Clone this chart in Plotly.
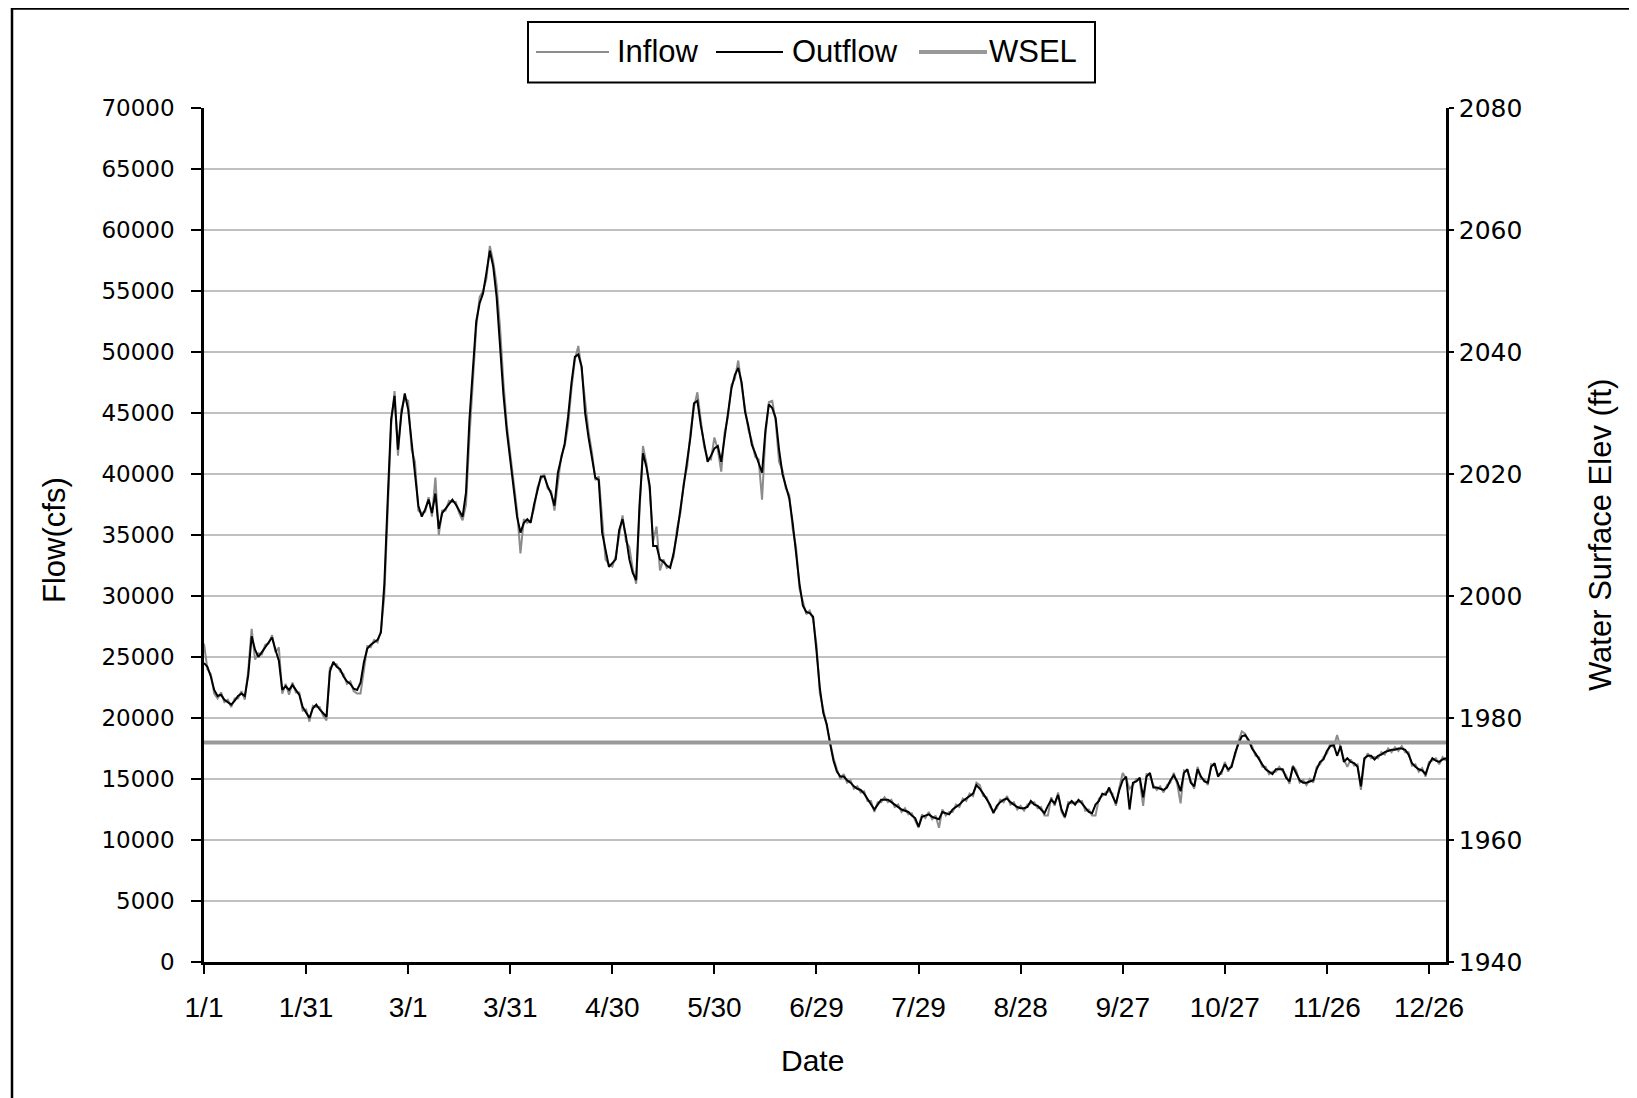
import pandas as pd
import plotly.graph_objects as go

# ---------------- data ----------------
dates = pd.date_range("2008-01-01", "2008-12-31", freq="D")
tick_labels = ["1/1", "1/31", "3/1", "3/31", "4/30", "5/30", "6/29",
               "7/29", "8/28", "9/27", "10/27", "11/26", "12/26"]
tick_dates = list(dates[::30])

outflow = [
    24500, 24200, 23400, 22300, 21800, 21900, 21500, 21300, 21100, 21400,
    21800, 22000, 21800, 23500, 26700, 25600, 25000, 25400, 25800, 26300,
    26600, 25600, 24700, 22300, 22600, 22300, 22700, 22300, 21900, 20900,
    20500, 20000, 20800, 21100, 20700, 20400, 20100, 23800, 24600, 24200,
    24000, 23400, 23000, 22800, 22400, 22300, 22900, 24600, 25700, 26000,
    26200, 26400, 27000, 31000, 38000, 44500, 46400, 42000, 44900, 46600,
    45300, 42500, 39800, 37400, 36500, 37100, 37900, 36800, 38400, 35500,
    36800, 37200, 37600, 37900, 37500, 37000, 36500, 38500, 44400, 48500,
    52500, 54000, 54800, 56500, 58300, 57000, 54500, 50500, 46500, 43500,
    41000, 38500, 36500, 35200, 36000, 36300, 36000, 37500, 38700, 39800,
    39800, 39000, 38400, 37400, 40100, 41200, 42500, 44700, 47500, 49600,
    49800, 48800, 45000, 43000, 41500, 39700, 39500, 35200, 33800, 32400,
    32700, 33000, 35400, 36300, 34900, 33000, 31900, 31300, 37500, 41700,
    40600, 39000, 34100, 34100, 33000, 32800, 32500, 32300, 33500, 35100,
    37100, 39000, 40900, 43100, 45800, 46000, 44000, 42500, 41000, 41500,
    42100, 42300, 41000, 43000, 45000, 47000, 48100, 48700, 47500, 45100,
    43900, 42400, 41700, 40900, 40100, 43600, 45700, 45400, 44600, 42000,
    40000, 39000, 38000, 36000, 33500, 31000, 29200, 28700, 28600, 28300,
    25500, 22400, 20400, 19500, 17900, 16500, 15600, 15200, 15200, 14900,
    14700, 14400, 14200, 14100, 13800, 13400, 13000, 12500, 12900, 13300,
    13300, 13300, 13100, 12900, 12700, 12500, 12400, 12300, 12000, 11800,
    11100, 11900, 12000, 12100, 11900, 11800, 11700, 12300, 12200, 12100,
    12500, 12700, 12900, 13200, 13400, 13600, 13800, 14500, 14200, 13800,
    13300, 12900, 12200, 12800, 13100, 13300, 13400, 13100, 12900, 12700,
    12600, 12600, 12700, 13200, 12900, 12800, 12500, 12200, 12800, 13300,
    13000, 13700, 12500, 11900, 12900, 13200, 12900, 13300, 13000, 12600,
    12300, 12200, 12900, 13200, 13800, 13700, 14300, 13600, 13000, 14100,
    14900, 15200, 12500, 14700, 14800, 15100, 13500, 15200, 15500, 14300,
    14300, 14200, 14100, 14300, 14900, 15300, 14800, 14000, 15500, 15800,
    14700, 14400, 15800, 15200, 14800, 14700, 16000, 16300, 15200, 15600,
    16200, 15800, 16000, 17100, 17900, 18500, 18600, 18200, 17500, 17100,
    16600, 16200, 15800, 15600, 15400, 15800, 15800, 15800, 15100, 14800,
    16000, 15500, 14900, 14700, 14700, 14800, 14900, 15800, 16400, 16600,
    17300, 17700, 17800, 16900, 17700, 16400, 16700, 16400, 16300, 16000,
    14400, 16700, 16900, 16900, 16600, 16900, 17000, 17200, 17300, 17400,
    17400, 17500, 17500, 17400, 17000, 16300, 16000, 15800, 15700, 15400,
    16200, 16700, 16500, 16400, 16600, 16700,
]

inflow = [
    26100, 24000, 23600, 22000, 21600, 22100, 21300, 21500, 20900, 21600,
    21600, 22200, 21500, 23900, 27300, 24800, 25300, 25200, 26000, 26100,
    26800, 25400, 25800, 22000, 22800, 21900, 22900, 22100, 22100, 20600,
    20700, 19700, 21000, 20900, 20900, 20200, 19800, 24100, 24400, 24400,
    23800, 23600, 22800, 23000, 22200, 22000, 22000, 24000, 25900, 25800,
    26400, 26200, 27200, 30000, 36500, 44000, 46800, 41500, 45300, 46200,
    46000, 42000, 41000, 37000, 36800, 36900, 38100, 36500, 39700, 35000,
    37000, 37000, 37800, 37700, 37700, 36800, 36200, 37500, 43000, 48000,
    52000, 54500, 55000, 56000, 58700, 57400, 55500, 52000, 47500, 44000,
    41500, 39000, 37000, 33500, 36300, 36000, 36200, 37200, 38900, 39600,
    40000, 38800, 38600, 37000, 39500, 41500, 42300, 44000, 47000, 49400,
    50500, 48500, 46000, 43500, 41800, 39500, 39800, 36000, 33000, 32600,
    32400, 33300, 35000, 36600, 34500, 34000, 32200, 31000, 37000, 42300,
    40900, 38600, 34500, 35700, 32100, 33000, 32300, 32500, 33200, 35500,
    36800, 39300, 40600, 43500, 45500, 46700, 44400, 42200, 41300, 41200,
    43000, 42000, 40200, 43400, 44700, 47300, 47800, 49300, 47200, 45500,
    43600, 42700, 41400, 41200, 37900, 43200, 45900, 46000, 44300, 41000,
    40300, 38800, 38300, 35500, 34000, 30600, 29500, 28500, 28800, 28100,
    26000, 22000, 20700, 19300, 18200, 16700, 15800, 15000, 15400, 14700,
    14900, 14200, 14400, 13900, 14000, 13200, 13200, 12300, 13100, 13100,
    13500, 13100, 13300, 12700, 12900, 12300, 12600, 12100, 12200, 11600,
    11000, 12100, 11800, 12300, 11700, 12000, 11000, 12500, 12000, 12300,
    12300, 12900, 12700, 13400, 13200, 13800, 13600, 14700, 14500, 13600,
    13500, 12700, 12400, 12600, 13300, 13100, 13600, 12900, 13100, 12500,
    12800, 12400, 12900, 13000, 13100, 12600, 12700, 12000, 12000, 13500,
    12800, 13900, 12300, 11800, 13100, 13000, 13100, 13100, 13200, 12400,
    12500, 12000, 12000, 13400, 13600, 13900, 14000, 13800, 12800, 14300,
    15500, 15000, 14200, 14500, 15000, 14900, 12800, 15400, 15300, 14500,
    14100, 14400, 13900, 14500, 14700, 15500, 14600, 13000, 15700, 15600,
    14900, 14200, 16000, 15000, 15000, 14500, 16200, 16100, 15400, 15400,
    16400, 15600, 16200, 16900, 18100, 18900, 18700, 18000, 17700, 16900,
    16800, 16000, 16000, 15400, 15600, 15600, 16000, 15600, 15300, 14600,
    16100, 15700, 14700, 14900, 14500, 15000, 14700, 16000, 16200, 16800,
    17100, 17900, 17600, 18600, 17500, 16600, 16000, 16600, 16100, 16200,
    14100, 16500, 17100, 16700, 16800, 16700, 17200, 17000, 17500, 17200,
    17600, 17300, 17700, 17200, 17200, 16100, 16200, 15600, 15900, 15200,
    16400, 16500, 16700, 16200, 16800, 16500,
]

wsel_dates = [dates[0], dates[-1]]
wsel = [1976, 1976]

series_names = ["Inflow", "Outflow", "WSEL"]

# ---------------- layout geometry ----------------
# page coordinates; the html body has an 8px margin, so the figure is offset
PAGE_W, PAGE_H = 1637, 1098
OFF = 8
W, H = PAGE_W - OFF, PAGE_H - OFF
L, R, T, B = 204 - OFF, 1446 - OFF, 108 - OFF, 962 - OFF


def px(x):  # page x -> paper
    return (x - OFF - L) / (R - L)


def py(y):  # page y -> paper
    return (B - (y - OFF)) / (B - T)


GRAY_LINE = "#8c8c8c"
WSEL_COLOR = "#999999"
FONT = "Liberation Sans, Arial, sans-serif"
NUMFONT = "DejaVu Sans, sans-serif"

fig = go.Figure()
fig.add_trace(go.Scatter(x=dates, y=inflow, name=series_names[0], mode="lines",
                         line=dict(color=GRAY_LINE, width=2), yaxis="y"))
fig.add_trace(go.Scatter(x=dates, y=outflow, name=series_names[1], mode="lines",
                         line=dict(color="black", width=2), yaxis="y"))
fig.add_trace(go.Scatter(x=wsel_dates, y=wsel, name=series_names[2], mode="lines",
                         line=dict(color=WSEL_COLOR, width=4), yaxis="y2"))

shapes = []
annotations = []

# outer chart border (extends beyond the window on right/bottom)
shapes.append(dict(type="rect", xref="paper", yref="paper",
                   x0=px(12), x1=px(PAGE_W + 30), y0=py(PAGE_H + 30), y1=py(8.5),
                   line=dict(color="black", width=2.5), fillcolor="rgba(0,0,0,0)",
                   layer="below"))

# custom legend
shapes.append(dict(type="rect", xref="paper", yref="paper",
                   x0=px(528), x1=px(1095), y0=py(82.5), y1=py(22),
                   line=dict(color="black", width=2), fillcolor="white"))
leg_y = 52
legend_items = [
    (series_names[0], 536, 609, 616, GRAY_LINE, 2),
    (series_names[1], 716, 783, 791, "black", 2),
    (series_names[2], 919, 987, 988, WSEL_COLOR, 4),
]
for name, lx0, lx1, tx, col, lw in legend_items:
    shapes.append(dict(type="line", xref="paper", yref="paper",
                       x0=px(lx0), x1=px(lx1), y0=py(leg_y), y1=py(leg_y),
                       line=dict(color=col, width=lw)))
    annotations.append(dict(text=name, xref="paper", yref="paper",
                            x=px(tx), y=py(leg_y), xanchor="left", yanchor="middle",
                            showarrow=False, borderpad=0,
                            font=dict(family=FONT, size=31, color="black")))

# axis titles
annotations.append(dict(text="Flow(cfs)", xref="paper", yref="paper",
                        x=px(54), y=py(540), textangle=-90, showarrow=False,
                        xanchor="center", yanchor="middle",
                        font=dict(family=FONT, size=31, color="black")))
annotations.append(dict(text="Water Surface Elev (ft)", xref="paper", yref="paper",
                        x=px(1600), y=py(535), textangle=-90, showarrow=False,
                        xanchor="center", yanchor="middle",
                        font=dict(family=FONT, size=31, color="black")))
annotations.append(dict(text="Date", xref="paper", yref="paper",
                        x=px(812), y=py(1060), showarrow=False,
                        xanchor="center", yanchor="middle",
                        font=dict(family=FONT, size=30, color="black")))

fig.update_layout(
    width=W, height=H,
    margin=dict(l=L, r=W - R, t=T, b=H - B, pad=0),
    paper_bgcolor="white", plot_bgcolor="white",
    showlegend=False,
    shapes=shapes, annotations=annotations,
    xaxis=dict(type="date", range=[dates[0], dates[-1]],
               tickmode="array", tickvals=tick_dates, ticktext=tick_labels,
               ticks="outside", ticklen=9, tickwidth=2, tickcolor="black",
               showline=True, linecolor="black", linewidth=2.5,
               showgrid=False, zeroline=False, ticklabelstandoff=10,
               tickfont=dict(family=FONT, size=28, color="black")),
    yaxis=dict(range=[0, 70000], dtick=5000, tick0=0, tickformat="d",
               ticks="outside", ticklen=10, tickwidth=2, tickcolor="black",
               showline=True, linecolor="black", linewidth=2.5,
               showgrid=True, gridcolor="#c0c0c0", gridwidth=2,
               zeroline=False, ticklabelstandoff=12,
               tickfont=dict(family=NUMFONT, size=23, color="black")),
    yaxis2=dict(range=[1940, 2080], dtick=20, tick0=1940, overlaying="y",
                side="right", anchor="x",
                ticks="outside", ticklen=5, tickwidth=2, tickcolor="black",
                showline=True, linecolor="black", linewidth=2.5,
                showgrid=False, zeroline=False, ticklabelstandoff=0,
                tickfont=dict(family=NUMFONT, size=25, color="black")),
    yaxis3=dict(range=[1940, 2080], dtick=20, tick0=1940, overlaying="y",
                side="right", anchor="x",
                ticks="inside", ticklen=9, tickwidth=2, tickcolor="black",
                showticklabels=False, showline=False, showgrid=False,
                zeroline=False),
)

fig.write_html("out.html")
